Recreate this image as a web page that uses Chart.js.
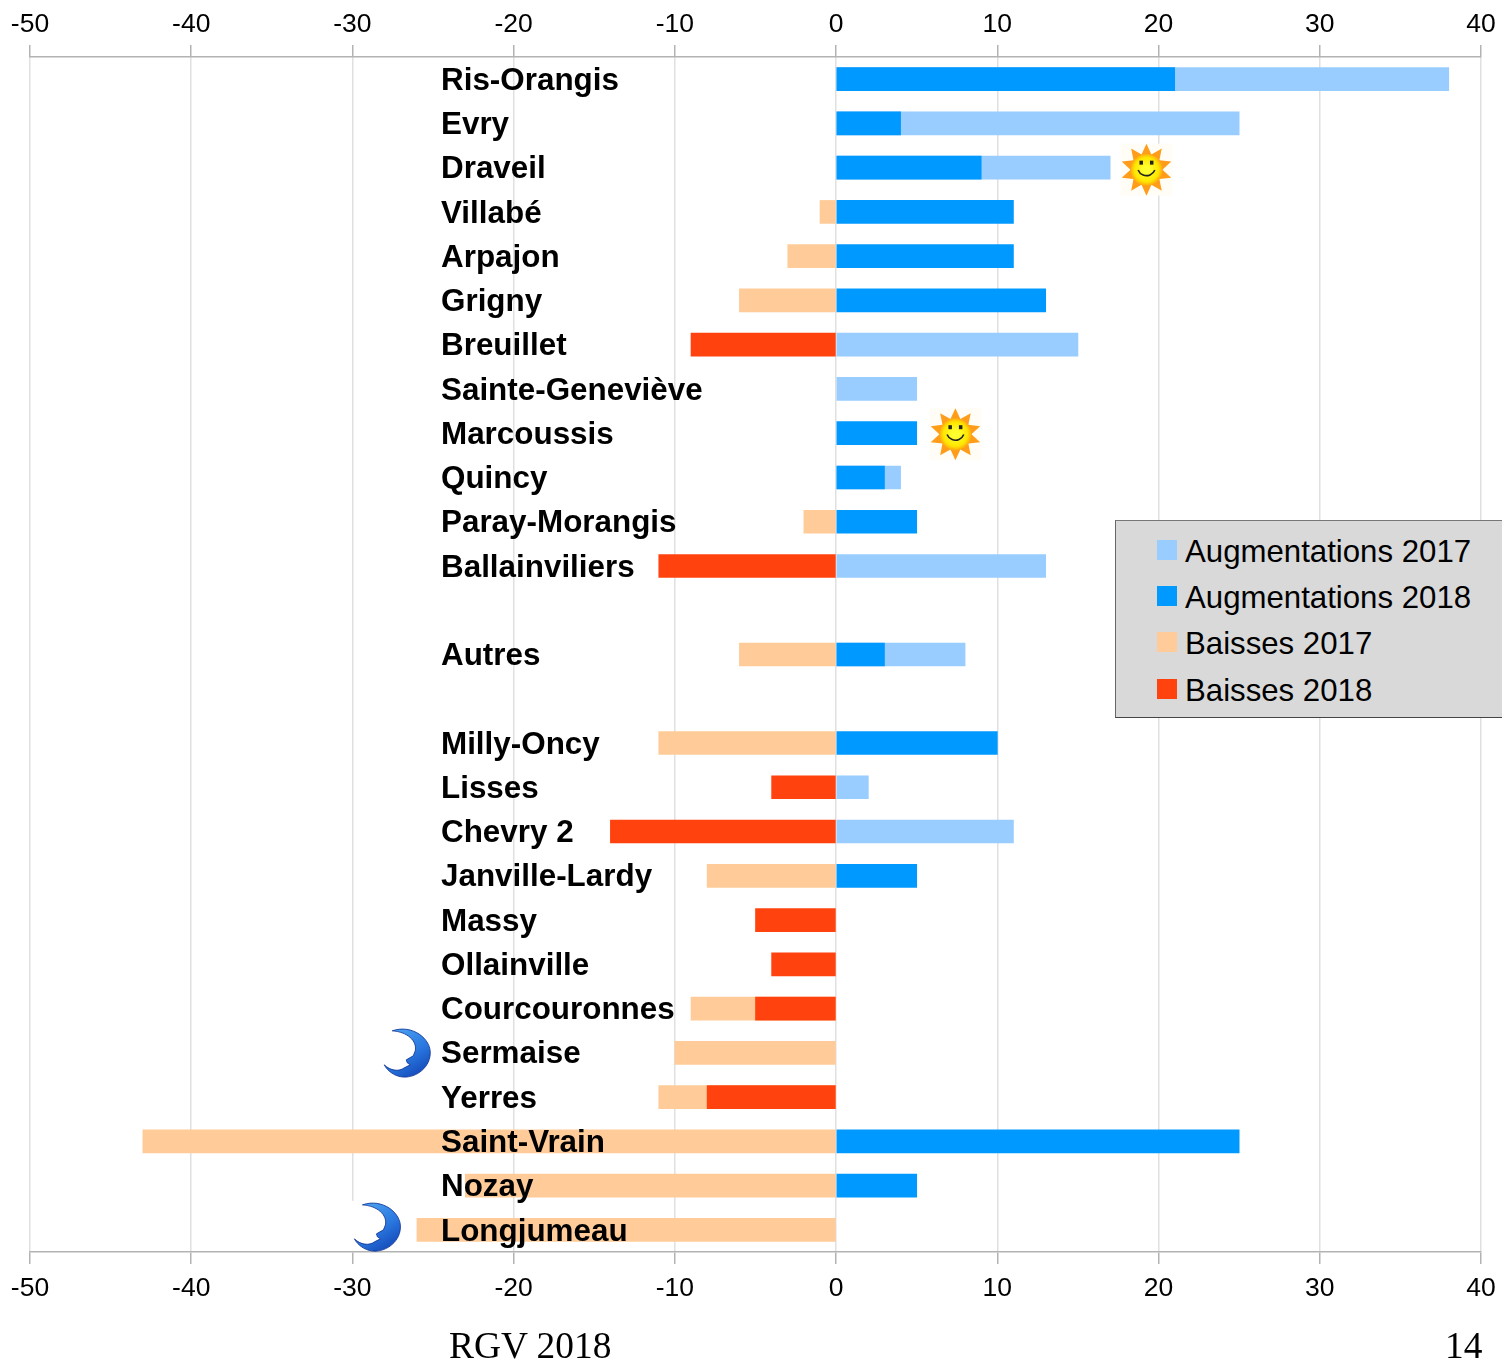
<!DOCTYPE html>
<html>
<head>
<meta charset="utf-8">
<script src="https://cdn.jsdelivr.net/npm/chart.js@4"></script>
<style>
  html, body { margin: 0; padding: 0; background: #fff; }
  body { width: 1502px; height: 1363px; position: relative; overflow: hidden; font-family: "Liberation Sans", sans-serif; }
  #wrap { position: absolute; left: 0; top: 0; width: 1502px; height: 1363px; }
  #legend { position: absolute; left: 1115px; top: 520px; width: 400px; height: 196px; background: #d9d9d9;
            border: 1px solid #444; border-top-color: #777; border-left-color: #666; }
  .item { position: absolute; left: 69px; font-size: 31.2px; line-height: 36px; color: #000; white-space: nowrap; }
  .item i { position: absolute; left: -28px; top: 6px; width: 20px; height: 20px; }
  .foot { position: absolute; font-family: "Liberation Serif", serif; font-size: 37.4px; line-height: 40px; color: #000; }
</style>
</head>
<body>
<div id="wrap"><canvas id="chart"></canvas></div>
<div id="legend"></div>
<div class="foot" style="left:449px;top:1326px">RGV 2018</div>
<div class="foot" style="left:1445px;top:1326px">14</div>
<script>
const communes = ['Ris-Orangis', 'Evry', 'Draveil', 'Villabé', 'Arpajon', 'Grigny', 'Breuillet', 'Sainte-Geneviève',
    'Marcoussis', 'Quincy', 'Paray-Morangis', 'Ballainviliers', '', 'Autres', '', 'Milly-Oncy', 'Lisses', 'Chevry 2',
    'Janville-Lardy', 'Massy', 'Ollainville', 'Courcouronnes', 'Sermaise', 'Yerres', 'Saint-Vrain', 'Nozay', 'Longjumeau'];

const augmentations2017 = [38, 25, 17, null, null, null, 15, 5, null, 4, null, 13, null, 8, null, null, 2, 11, null, null, null, null, null, null, null, null, null];
const augmentations2018 = [21, 4, 9, 11, 11, 13, null, null, 5, 3, 5, null, null, 3, null, 10, null, null, 5, null, null, null, null, null, 25, 5, null];
const baisses2017 = [null, null, null, -1, -3, -6, null, null, null, null, -2, null, null, -6, null, -11, null, null, -8, null, null, -9, -10, -11, -43, -23, -26];
const baisses2018 = [null, null, null, null, null, null, -9, null, null, null, null, -11, null, null, null, null, -4, -14, null, -5, -4, -5, null, -8, null, null, null];

const xTicks = [-50, -40, -30, -20, -10, 0, 10, 20, 30, 40];

// petits dessins : soleils et lunes, placés sur les échelles du graphique
const icones = [
    { type: 'soleil', commune: 'Draveil', valeur: 19.25, dy: 2 },
    { type: 'soleil', commune: 'Marcoussis', valeur: 7.4, dy: 1 },
    { type: 'lune', commune: 'Sermaise', valeur: -26.6, dy: 0 },
    { type: 'lune', commune: 'Longjumeau', valeur: -28.45, dy: -3 }
];

function dessineSoleil(ctx, x, y) {
    ctx.save();
    ctx.translate(x, y);
    ctx.fillStyle = '#fffdf6';
    ctx.fillRect(-26, -26, 52, 52);
    ctx.beginPath();
    for (let i = 0; i < 20; i++) {
        const a = -Math.PI / 2 + i * Math.PI / 10;
        const r = i % 2 ? 16 : 26;
        ctx.lineTo(Math.cos(a) * r, Math.sin(a) * r);
    }
    ctx.closePath();
    ctx.fillStyle = '#ff9d1a';
    ctx.fill();
    const g = ctx.createRadialGradient(0, 0, 3, 0, 0, 16);
    g.addColorStop(0, '#ffff30');
    g.addColorStop(0.7, '#ffe600');
    g.addColorStop(1, '#ffa810');
    ctx.fillStyle = g;
    ctx.beginPath();
    ctx.arc(0, 0, 16, 0, Math.PI * 2);
    ctx.fill();
    ctx.fillStyle = '#222';
    ctx.fillRect(-7, -9, 3.5, 4);
    ctx.fillRect(3.5, -9, 3.5, 4);
    ctx.strokeStyle = '#222';
    ctx.lineWidth = 1.6;
    ctx.beginPath();
    ctx.arc(0, -3, 9, Math.PI * 0.12, Math.PI * 0.88);
    ctx.stroke();
    ctx.restore();
}

function dessineLune(ctx, x, y) {
    ctx.save();
    ctx.translate(x, y);
    ctx.fillStyle = '#fff';
    ctx.fillRect(-26, -26, 52, 50);
    const g = ctx.createLinearGradient(-10, -24, 20, 24);
    g.addColorStop(0, '#4aa0f0');
    g.addColorStop(0.5, '#2a78e0');
    g.addColorStop(1, '#1040b0');
    ctx.beginPath();
    ctx.moveTo(-15, -22);
    ctx.bezierCurveTo(5, -29, 24, -14, 23, 1);
    ctx.bezierCurveTo(22, 17, 6, 26, -6, 24);
    ctx.bezierCurveTo(-13, 23, -20, 18, -23, 12);
    ctx.bezierCurveTo(-17, 18, -8, 19, -3, 15);
    ctx.lineTo(3, 12);
    ctx.lineTo(0, 10);
    ctx.lineTo(-1, 7);
    ctx.lineTo(6, 3);
    ctx.lineTo(8, -2);
    ctx.bezierCurveTo(10, -12, 0, -21, -15, -22);
    ctx.closePath();
    ctx.fillStyle = g;
    ctx.fill();
    ctx.strokeStyle = '#0a2f90';
    ctx.lineWidth = 0.8;
    ctx.stroke();
    ctx.restore();
}

const pluginIcones = {
    id: 'icones',
    afterDatasetsDraw(chart) {
        const { ctx, scales } = chart;
        icones.forEach(ic => {
            const x = scales.x.getPixelForValue(ic.valeur);
            const y = scales.y.getPixelForValue(communes.indexOf(ic.commune)) + ic.dy;
            if (ic.type === 'soleil') dessineSoleil(ctx, x, y);
            else dessineLune(ctx, x, y);
        });
    }
};

const tickFont = { family: 'Liberation Sans', size: 26.5 };

function axeX(position, hauteur, ecart) {
    return {
        type: 'linear',
        position: position,
        min: -50,
        max: 40,
        afterBuildTicks: axis => { axis.ticks = xTicks.map(v => ({ value: v })); },
        afterFit: axis => { axis.height = hauteur; axis.paddingLeft = 0; axis.paddingRight = 0; },
        grid: { color: '#e0e0e0', lineWidth: 1.5, tickColor: '#b3b3b3', tickLength: 12, drawOnChartArea: position === 'bottom' },
        border: { color: '#b3b3b3', width: 1.5 },
        ticks: { color: '#000', font: tickFont, padding: ecart, maxRotation: 0, autoSkip: false }
    };
}

const chart = new Chart(document.getElementById('chart'), {
    type: 'bar',
    data: {
        labels: communes,
        datasets: [
            { label: 'Augmentations 2017', data: augmentations2017, backgroundColor: '#99ccff', order: 2, xAxisID: 'x' },
            { label: 'Augmentations 2018', data: augmentations2018, backgroundColor: '#0099ff', order: 1, xAxisID: 'x' },
            { label: 'Baisses 2017', data: baisses2017, backgroundColor: '#ffcc99', order: 2, xAxisID: 'x' },
            { label: 'Baisses 2018', data: baisses2018, backgroundColor: '#ff420e', order: 1, xAxisID: 'x' }
        ]
    },
    plugins: [pluginIcones],
    options: {
        indexAxis: 'y',
        responsive: true,
        maintainAspectRatio: false,
        animation: false,
        layout: { padding: { left: 30, right: 21, top: 0, bottom: 51 } },
        datasets: { bar: { grouped: false, barThickness: 23 } },
        plugins: { legend: { display: false }, tooltip: { enabled: false } },
        scales: {
            x: axeX('bottom', 60, 9),
            x2: axeX('top', 57, 4),
            y: {
                type: 'category',
                position: 'left',
                afterFit: axis => { axis.width = 0; axis.paddingTop = 0; axis.paddingBottom = 0; },
                grid: { display: false },
                border: { display: false },
                ticks: {
                    mirror: true,
                    crossAlign: 'near',
                    padding: 411,
                    labelOffset: 2,
                    z: 1,
                    color: '#000',
                    autoSkip: false,
                    font: { family: 'Liberation Sans', size: 31.4, weight: 'bold' }
                }
            }
        }
    }
});

// légende en HTML, construite depuis les séries
const legendTops = [13, 59, 105, 152];
chart.data.datasets.forEach((ds, i) => {
    const item = document.createElement('div');
    item.className = 'item';
    item.style.top = legendTops[i] + 'px';
    item.innerHTML = '<i style="background:' + ds.backgroundColor + '"></i>' + ds.label;
    document.getElementById('legend').appendChild(item);
});
</script>
</body>
</html>
